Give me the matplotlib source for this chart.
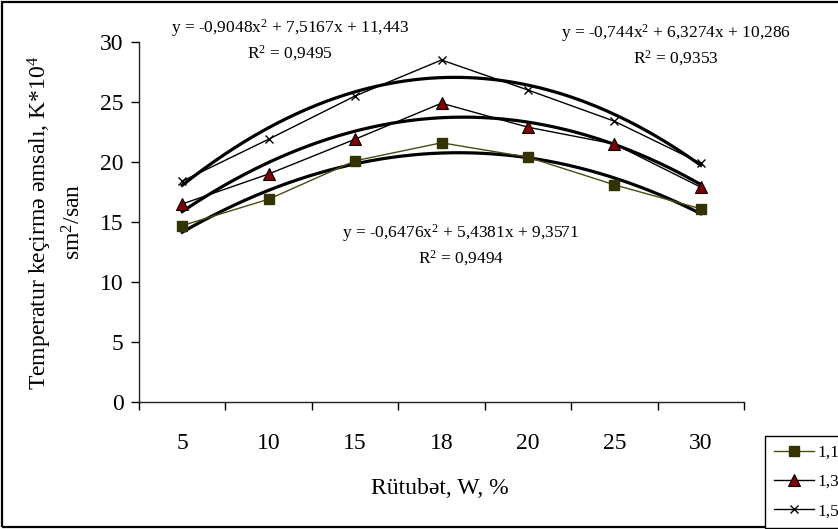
#!/usr/bin/env python3
# -*- encoding: utf-8 -*-

import numpy as np
import matplotlib
import matplotlib.pyplot as plt
from matplotlib.patches import Rectangle

matplotlib.use("Agg")

# Humidity categories (plotted as equally spaced categories)
humidity_labels = ["5", "10", "15", "18", "20", "25", "30"]

# Measured values for each density
series_11 = [14.7, 16.9, 20.1, 21.6, 20.4, 18.1, 16.1]
series_13 = [16.5, 19.0, 21.9, 24.9, 22.9, 21.5, 17.9]
series_15 = [18.4, 21.9, 25.5, 28.5, 26.0, 23.4, 19.9]
series_names = ["1,1", "1,3", "1,5"]

# Polynomial trendline coefficients (from the chart labels)
trend_11 = [-0.6476, 5.4381, 9.3571]
trend_13 = [-0.744, 6.3274, 10.286]
trend_15 = [-0.9048, 7.5167, 11.443]

eq_texts = [
    "y = -0,9048x$^2$ + 7,5167x + 11,443\nR$^2$ = 0,9495",
    "y = -0,744x$^2$ + 6,3274x + 10,286\nR$^2$ = 0,9353",
    "y = -0,6476x$^2$ + 5,4381x + 9,3571\nR$^2$ = 0,9494",
]

FONT = "Liberation Serif"


def main():
    plt.rcParams["font.family"] = [FONT, "DejaVu Serif"]
    plt.rcParams["mathtext.fontset"] = "custom"
    plt.rcParams["mathtext.rm"] = FONT
    plt.rcParams["mathtext.it"] = FONT + ":italic"

    W, H = 838, 529
    fig = plt.figure(figsize=(W / 100, H / 100), dpi=100)
    ax = fig.add_axes([139 / W, 1 - 402 / H, 605 / W, 360 / H])

    x = np.arange(1, len(humidity_labels) + 1)

    ax.plot(x, series_11, color="#4a4a12", lw=1.0, marker="s", ms=6.5,
            mfc="#333300", mec="#333300", label=series_names[0], zorder=3)
    ax.plot(x, series_13, color="black", lw=1.0, marker="^", ms=8,
            mfc="#800000", mec="black", mew=0.8, label=series_names[1], zorder=3)
    ax.plot(x, series_15, color="black", lw=1.0, marker="x", ms=6,
            mec="black", mew=1.0, label=series_names[2], zorder=3)

    # trendlines
    xs = np.linspace(1, 7, 200)
    for coef in (trend_11, trend_13, trend_15):
        ax.plot(xs, np.polyval(coef, xs), color="black", lw=2.3, zorder=2)

    ax.set_xlim(0.5, 7.5)
    ax.set_ylim(0, 30)
    ax.set_yticks(np.arange(0, 31, 5))
    ax.set_xticks(np.arange(0.5, 7.6, 1))
    ax.set_xticklabels([])
    ax.set_xticks(x, minor=True)
    ax.set_xticklabels(humidity_labels, minor=True)
    ax.tick_params(axis="x", which="minor", length=0, pad=22, labelsize=17)
    ax.tick_params(axis="x", which="major", direction="out", length=6,
                   width=1.0)
    ax.tick_params(axis="y", direction="out", length=6, width=1.0,
                   labelsize=17, pad=5)
    for side in ("top", "right"):
        ax.spines[side].set_visible(False)
    for side in ("left", "bottom"):
        ax.spines[side].set_linewidth(1.0)
        ax.spines[side].set_color("#222222")

    ax.set_xlabel("Rütubət, W, %", fontsize=17, va="center")
    ax.xaxis.set_label_coords((440 - 139) / 605, -(488 - 402) / 360)

    # y label in two lines
    fig.text(40 / W, 1 - 223 / H, "Temperatur keçirmə əmsalı, K*10$^4$",
             rotation=90, ha="center", va="center", fontsize=17)
    fig.text(74 / W, 1 - 222 / H, "sm$^2$/san",
             rotation=90, ha="center", va="center", fontsize=17)

    # trendline equations
    eq_pos = [(290, 40), (676, 45), (461, 245)]
    for txt, (px, py) in zip(eq_texts, eq_pos):
        fig.text(px / W, 1 - py / H, txt, ha="center", va="center",
                 fontsize=12.5, multialignment="center", linespacing=1.3)

    leg = fig.legend(loc="upper left", bbox_to_anchor=(765 / W, 1 - 436 / H),
                     fontsize=12.5, frameon=True, fancybox=False, shadow=False,
                     handlelength=2.3, handletextpad=0.2, labelspacing=0.75,
                     borderpad=0.5, borderaxespad=0, framealpha=1)
    leg.get_frame().set_edgecolor("black")
    leg.get_frame().set_linewidth(1.0)

    # outer chart border
    fig.patches.append(Rectangle((2 / W, 2 / H), 1.2, 1 - 4 / H,
                                 transform=fig.transFigure, fill=False,
                                 edgecolor="black", lw=1.6))

    fig.savefig("out.png", dpi=100)


if __name__ == "__main__":
    main()
